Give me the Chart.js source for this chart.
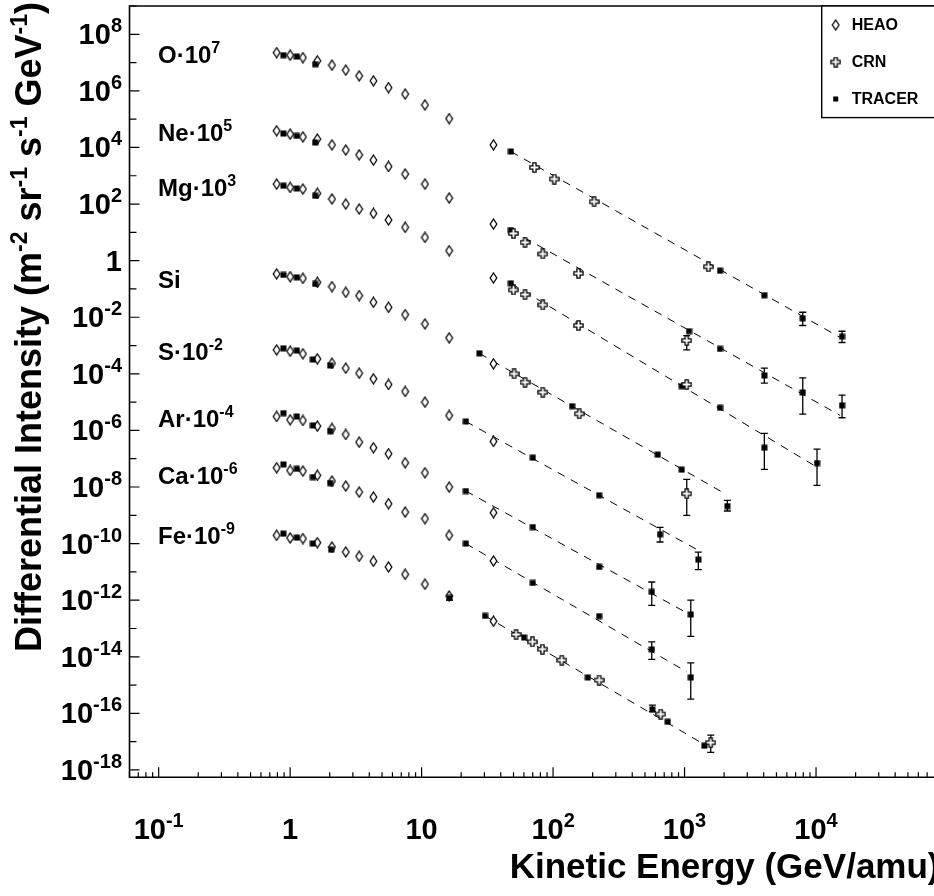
<!DOCTYPE html>
<html>
<head>
<meta charset="utf-8">
<script src="https://cdn.jsdelivr.net/npm/chart.js@4.4.1/dist/chart.umd.min.js"></script>
<style>
  html, body { margin: 0; padding: 0; background: #fff; overflow: hidden; }
  #wrap { width: 934px; height: 896px; overflow: hidden; }
  canvas { display: block; }
</style>
</head>
<body>
<div id="wrap"><canvas id="chart" width="960" height="896"></canvas></div>
<script>
// ---- data (plotted values, already scaled as in the labels) ----
const ELEMENTS = ['O', 'Ne', 'Mg', 'Si', 'S', 'Ar', 'Ca', 'Fe'];
const SCALE_EXP = ['7', '5', '3', '', '-2', '-4', '-6', '-9'];

// HEAO: same energies for every element
const HEAO_E = [0.79, 1.0, 1.25, 1.61, 2.08, 2.65, 3.35, 4.3, 5.6, 7.5, 10.6, 16.2, 35.2];
const O_HEAO  = [2.25e7, 1.82e7, 1.50e7, 1.15e7, 8.1e6, 5.4e6, 3.4e6, 2.26e6, 1.31e6, 7.7e5, 3.2e5, 1.05e5, 1.24e4];
const Ne_HEAO = [3.88e4, 2.96e4, 2.38e4, 1.98e4, 1.24e4, 8.1e3, 5.5e3, 3.58e3, 2.13e3, 1.15e3, 509, 163, 19.7];
const Mg_HEAO = [509, 386, 340, 238, 151, 100, 66.8, 46.8, 27.4, 15.0, 6.64, 2.25, 0.245];
const Si_HEAO = [0.34, 0.272, 0.237, 0.171, 0.121, 0.076, 0.0582, 0.0337, 0.0225, 0.0124, 5.8e-3, 1.87e-3, 2.26e-4];
const S_HEAO  = [7.0e-4, 6.3e-4, 5.1e-4, 3.39e-4, 2.37e-4, 1.58e-4, 1.05e-4, 6.7e-5, 4.2e-5, 2.38e-5, 9.95e-6, 3.38e-6, 4.08e-7];
const Ar_HEAO = [3.11e-6, 2.38e-6, 2.25e-6, 1.42e-6, 1.17e-6, 7.2e-7, 3.85e-7, 2.45e-7, 1.5e-7, 7.2e-8, 3.2e-8, 9.95e-9, 1.24e-9];
const Ca_HEAO = [4.8e-8, 3.86e-8, 3.66e-8, 2.58e-8, 1.62e-8, 1.08e-8, 6.6e-9, 4.42e-9, 2.58e-9, 1.3e-9, 7.6e-10, 1.96e-10, 2.43e-11];
const Fe_HEAO = [1.96e-10, 1.58e-10, 1.5e-10, 1.08e-10, 7.6e-11, 5.06e-11, 3.56e-11, 2.37e-11, 1.49e-11, 8.2e-12, 3.66e-12, 1.41e-12, 1.81e-13];

// TRACER: [energy, intensity]
const O_TRACER  = [[0.889, 1.82e7], [1.125, 1.63e7], [1.549, 8.8e6], [47.7, 7.2e3], [1862, 0.44], [4045, 0.060], [7924, 9.2e-3], [15770, 2.07e-3]];
const Ne_TRACER = [[0.889, 3.11e4], [1.125, 2.58e4], [1.549, 1.5e4], [47.7, 12.1], [1082, 3.2e-3], [1862, 7.6e-4], [4045, 8.7e-5], [7924, 2.19e-5], [15770, 7.6e-6]];
const Mg_TRACER = [[0.889, 444], [1.125, 356], [1.549, 197], [47.7, 0.158], [952, 3.66e-5], [1862, 6.3e-6], [4045, 2.45e-7], [10175, 7.0e-8]];
const Si_TRACER = [[0.889, 0.313], [1.125, 0.258], [1.549, 0.151], [27.5, 5.3e-4], [139.5, 7.2e-6], [626, 1.39e-7], [952, 4.1e-8], [2116, 2.12e-9]];
const S_TRACER  = [[0.889, 8.0e-4], [1.125, 6.65e-4], [1.488, 3.2e-4], [2.015, 1.97e-4], [21.7, 2.07e-6], [70.1, 1.09e-7], [224, 5.1e-9], [651, 2.13e-10], [1273, 2.72e-11]];
const Ar_TRACER = [[0.889, 4.07e-6], [1.125, 3.11e-6], [1.488, 1.5e-6], [2.015, 9.4e-7], [21.7, 7.2e-9], [70.1, 3.85e-10], [224, 1.49e-11], [563, 1.96e-12], [1115, 3.12e-13]];
const Ca_TRACER = [[0.889, 6.3e-8], [1.125, 4.4e-8], [1.488, 2.24e-8], [2.015, 1.38e-8], [21.7, 1.0e-10], [70.1, 4.06e-12], [224, 2.72e-13], [563, 1.81e-14], [1115, 1.86e-15]];
const Fe_TRACER = [[0.889, 2.25e-10], [1.125, 1.63e-10], [1.488, 1.0e-10], [2.05, 6.1e-11], [16.3, 1.2e-12], [30.4, 2.78e-13], [60.2, 4.8e-14], [184, 1.86e-15], [569, 1.38e-16], [745, 5.05e-17], [1415, 7.2e-18]];

// CRN: [energy, intensity]
const O_CRN  = [[72.1, 1.96e3], [102, 766], [205, 121], [1517, 0.61]];
const Ne_CRN = [[49.9, 9.2], [61.2, 4.43], [83.5, 1.72], [156, 0.356], [1039, 1.5e-3]];
const Mg_CRN = [[49.9, 0.0925], [61.2, 0.063], [83.5, 0.0273], [156, 5.1e-3], [1039, 4.2e-5]];
const Si_CRN = [[50.5, 1.0e-4], [61.2, 5.06e-5], [83.5, 2.24e-5], [158, 3.88e-6], [1039, 5.8e-9]];
const Fe_CRN = [[52.3, 6.1e-14], [69.6, 3.37e-14], [82.9, 1.86e-14], [116.5, 7.6e-15], [224, 1.5e-15], [659, 9.4e-17], [1582, 9.2e-18]];

// error bars: [energy, low, high]
const O_ERR  = [[7924, 5.1e-3, 1.5e-2], [15770, 1.28e-3, 3.2e-3]];
const Ne_ERR = [[1039, 7.0e-4, 2.25e-3], [4045, 4.67e-5, 1.58e-4], [7924, 3.76e-6, 7.2e-5], [15770, 2.8e-6, 1.76e-5]];
const Mg_ERR = [[4045, 4.2e-8, 7.8e-7], [10175, 1.14e-8, 2.18e-7]];
const Si_ERR = [[1039, 1.0e-9, 1.86e-8], [2116, 1.42e-9, 3.37e-9]];
const S_ERR  = [[651, 1.14e-10, 3.76e-10], [1273, 1.21e-11, 5.0e-11]];
const Ar_ERR = [[563, 6.6e-13, 4.4e-12], [1115, 5.3e-14, 1.0e-12]];
const Ca_ERR = [[563, 8.05e-15, 3.37e-14], [1115, 3.19e-16, 6.1e-15]];
const Fe_ERR = [[16.3, 1.0e-12, 1.4e-12], [569, 1.15e-16, 1.96e-16], [1582, 4.2e-18, 1.71e-17]];

// power-law fits (dashed), end points
const O_FIT  = [[47.7, 7.2e3], [15770, 1.77e-3]];
const Ne_FIT = [[47.7, 12.1], [15230, 3.4e-6]];
const Mg_FIT = [[47.7, 0.158], [10150, 5.06e-8]];
const Si_FIT = [[27.5, 5.3e-4], [2032, 5.8e-9]];
const S_FIT  = [[21.7, 2.07e-6], [1245, 6.1e-11]];
const Ar_FIT = [[21.7, 7.2e-9], [1009, 3.85e-13]];
const Ca_FIT = [[21.7, 1.0e-10], [1039, 2.94e-15]];
const Fe_FIT = [[30.4, 2.78e-13], [1312, 9.7e-18]];

// where each element label sits (intensity of its baseline, at E = 0.1)
const LABEL_Y = [1e7, 1.7e4, 2.0e2, 0.11, 3.2e-4, 1.3e-6, 1.3e-8, 1.0e-10];

const X_TICKS = [0.1, 1, 10, 100, 1000, 10000];
const X_TICK_LABELS = [['10', '-1'], ['1', ''], ['10', ''], ['10', '2'], ['10', '3'], ['10', '4']];
const Y_TICKS = [1e8, 1e6, 1e4, 1e2, 1, 1e-2, 1e-4, 1e-6, 1e-8, 1e-10, 1e-12, 1e-14, 1e-16, 1e-18];
const Y_TICK_LABELS = [['10','8'], ['10','6'], ['10','4'], ['10','2'], ['1',''], ['10','-2'], ['10','-4'], ['10','-6'],
  ['10','-8'], ['10','-10'], ['10','-12'], ['10','-14'], ['10','-16'], ['10','-18']];

const HEAO = [O_HEAO, Ne_HEAO, Mg_HEAO, Si_HEAO, S_HEAO, Ar_HEAO, Ca_HEAO, Fe_HEAO];
const TRACER = [O_TRACER, Ne_TRACER, Mg_TRACER, Si_TRACER, S_TRACER, Ar_TRACER, Ca_TRACER, Fe_TRACER];
const CRN = [O_CRN, Ne_CRN, Mg_CRN, Si_CRN, [], [], [], Fe_CRN];
const ERRS = [O_ERR, Ne_ERR, Mg_ERR, Si_ERR, S_ERR, Ar_ERR, Ca_ERR, Fe_ERR];
const FITS = [O_FIT, Ne_FIT, Mg_FIT, Si_FIT, S_FIT, Ar_FIT, Ca_FIT, Fe_FIT];

const FONT = '"Liberation Sans", Arial, Helvetica, sans-serif';

// ---- marker images (ROOT style) ----
function makeDiamond() {
  const c = document.createElement('canvas');
  c.width = 9; c.height = 12;
  const g = c.getContext('2d');
  g.beginPath();
  g.moveTo(4.5, 1); g.lineTo(7.8, 6); g.lineTo(4.5, 11); g.lineTo(1.2, 6); g.closePath();
  g.fillStyle = '#fff'; g.fill();
  g.lineWidth = 1.3; g.strokeStyle = '#000'; g.stroke();
  return c;
}
function makeCross() {
  const c = document.createElement('canvas');
  c.width = 11; c.height = 11;
  const g = c.getContext('2d');
  const m = 5.5, a = 1.6, e = 4.6;
  const pts = [[m-a,m-e],[m+a,m-e],[m+a,m-a],[m+e,m-a],[m+e,m+a],[m+a,m+a],[m+a,m+e],[m-a,m+e],[m-a,m+a],[m-e,m+a],[m-e,m-a],[m-a,m-a]];
  g.beginPath();
  pts.forEach((p, i) => i ? g.lineTo(p[0], p[1]) : g.moveTo(p[0], p[1]));
  g.closePath();
  g.fillStyle = '#fff'; g.fill();
  g.lineWidth = 1.3; g.strokeStyle = '#000'; g.stroke();
  return c;
}
function makeSquare() {
  const c = document.createElement('canvas');
  c.width = 7; c.height = 7;
  const g = c.getContext('2d');
  g.fillStyle = '#000'; g.fillRect(0.5, 0.5, 6, 6);
  return c;
}
const DIAMOND = makeDiamond();
const CROSS = makeCross();
const SQUARE = makeSquare();

// ---- text with superscripts ----
function richWidth(ctx, segs, F, S) {
  let w = 0;
  segs.forEach(([t, sup]) => {
    ctx.font = `bold ${sup ? S : F}px ${FONT}`;
    w += ctx.measureText(t).width;
  });
  return w;
}
function drawRich(ctx, segs, x, y, F, S, rise, align) {
  const w = richWidth(ctx, segs, F, S);
  let cx = align === 'right' ? x - w : align === 'center' ? x - w / 2 : x;
  ctx.textAlign = 'left';
  ctx.textBaseline = 'alphabetic';
  segs.forEach(([t, sup]) => {
    ctx.font = `bold ${sup ? S : F}px ${FONT}`;
    ctx.fillText(t, cx, sup ? y - rise : y);
    cx += ctx.measureText(t).width;
  });
  return w;
}
function powerSegs(base, exp) {
  return exp ? [[base, false], [exp, true]] : [[base, false]];
}

// ---- datasets ----
const datasets = [];
ELEMENTS.forEach((el, i) => {
  datasets.push({
    label: el + ' fit', type: 'line', order: 3,
    data: FITS[i].map(([x, y]) => ({ x, y })),
    borderColor: '#000', borderWidth: 1, borderDash: [8, 7],
    pointRadius: 0, fill: false
  });
  datasets.push({
    label: el + ' HEAO', order: 2,
    data: HEAO_E.map((x, k) => ({ x, y: HEAO[i][k] })),
    pointStyle: DIAMOND, pointRadius: 5
  });
  datasets.push({
    label: el + ' TRACER', order: 1,
    data: TRACER[i].map(([x, y]) => ({ x, y })),
    pointStyle: SQUARE, pointRadius: 4
  });
  if (CRN[i].length) {
    datasets.push({
      label: el + ' CRN', order: 0,
      data: CRN[i].map(([x, y]) => ({ x, y })),
      pointStyle: CROSS, pointRadius: 5
    });
  }
});

// ---- plugins ----
const errorBars = {
  id: 'errorBars',
  beforeDatasetsDraw(chart) {
    const { ctx, scales: { x, y } } = chart;
    ctx.save();
    ctx.strokeStyle = '#000';
    ctx.lineWidth = 1.3;
    ERRS.forEach(list => list.forEach(([e, lo, hi]) => {
      const px = x.getPixelForValue(e);
      const p1 = y.getPixelForValue(lo), p2 = y.getPixelForValue(hi);
      ctx.beginPath();
      ctx.moveTo(px, p1); ctx.lineTo(px, p2);
      ctx.moveTo(px - 3.5, p1); ctx.lineTo(px + 3.5, p1);
      ctx.moveTo(px - 3.5, p2); ctx.lineTo(px + 3.5, p2);
      ctx.stroke();
    }));
    ctx.restore();
  }
};

const frameAxes = {
  id: 'frameAxes',
  afterDraw(chart) {
    const { ctx, chartArea: a, scales: { x, y } } = chart;
    ctx.save();
    ctx.strokeStyle = '#000';
    ctx.fillStyle = '#000';
    ctx.lineWidth = 1.6;
    ctx.beginPath();
    ctx.moveTo(a.right, a.top); ctx.lineTo(a.left, a.top);
    ctx.lineTo(a.left, a.bottom); ctx.lineTo(a.right, a.bottom);
    ctx.stroke();

    // x ticks (inside, pointing up)
    ctx.lineWidth = 1.2;
    ctx.beginPath();
    for (let d = -2; d <= 5; d++) {
      for (let m = 1; m <= 9; m++) {
        const v = m * Math.pow(10, d);
        if (v < x.min || v > x.max) continue;
        const px = x.getPixelForValue(v);
        const len = m === 1 ? 10 : 5;
        ctx.moveTo(px, a.bottom); ctx.lineTo(px, a.bottom - len);
      }
    }
    // y ticks (inside, pointing right)
    for (let d = -18; d <= 9; d++) {
      const v = Math.pow(10, d);
      const py = y.getPixelForValue(v);
      const len = d % 2 === 0 ? 10 : 7;
      ctx.moveTo(a.left, py); ctx.lineTo(a.left + len, py);
    }
    ctx.stroke();

    // tick labels
    X_TICKS.forEach((v, i) => {
      const [b, e] = X_TICK_LABELS[i];
      drawRich(ctx, powerSegs(b, e), x.getPixelForValue(v), 839, 29, 20, 12, 'center');
    });
    Y_TICKS.forEach((v, i) => {
      const [b, e] = Y_TICK_LABELS[i];
      drawRich(ctx, powerSegs(b, e), 122, y.getPixelForValue(v) + 10, 29, 20, 12, 'right');
    });

    // element labels
    ELEMENTS.forEach((el, i) => {
      const segs = SCALE_EXP[i] ? [[el + '\u00b710', false], [SCALE_EXP[i], true]] : [[el, false]];
      drawRich(ctx, segs, 158, y.getPixelForValue(LABEL_Y[i]), 24, 16, 10, 'left');
    });

    // axis titles
    drawRich(ctx, [['Kinetic Energy (GeV/amu)', false]], a.right - 8, 878, 35, 23, 0, 'right');
    const ytitle = [['Differential Intensity (m', false], ['-2', true], [' sr', false], ['-1', true],
      [' s', false], ['-1', true], [' GeV', false], ['-1', true], [')', false]];
    ctx.save();
    const w = richWidth(ctx, ytitle, 36, 23);
    ctx.translate(41, 2 + w);
    ctx.rotate(-Math.PI / 2);
    drawRich(ctx, ytitle, 0, 0, 36, 23, 14, 'left');
    ctx.restore();

    // legend box
    const lx = 821.7, ly = a.top, lw = 140, lh = 111.6;
    ctx.fillStyle = '#fff';
    ctx.fillRect(lx, ly, lw, lh);
    ctx.lineWidth = 1.4;
    ctx.strokeRect(lx, ly, lw, lh);
    ctx.fillStyle = '#000';
    const items = [['HEAO', DIAMOND], ['CRN', CROSS], ['TRACER', SQUARE]];
    items.forEach(([t, img], k) => {
      const cy = 25 + k * 37;
      if (img === SQUARE) ctx.fillRect(835.7 - 2.5, cy - 2.5, 5, 5);
      else ctx.drawImage(img, 835.7 - img.width / 2, cy - img.height / 2);
      ctx.font = `bold 16px ${FONT}`;
      ctx.textAlign = 'left';
      ctx.textBaseline = 'middle';
      ctx.fillText(t, 851.7, cy + 1);
    });
    ctx.restore();
  }
};

new Chart(document.getElementById('chart'), {
  type: 'scatter',
  data: { datasets },
  options: {
    responsive: false,
    animation: false,
    layout: { padding: { left: 129.5, top: 5.7, right: 12.5, bottom: 118.7 } },
    plugins: { legend: { display: false }, tooltip: { enabled: false } },
    scales: {
      x: { type: 'logarithmic', min: 0.06, max: 1e5, display: false },
      y: { type: 'logarithmic', min: 5.5e-19, max: 1e9, display: false }
    }
  },
  plugins: [errorBars, frameAxes]
});
</script>
</body>
</html>
